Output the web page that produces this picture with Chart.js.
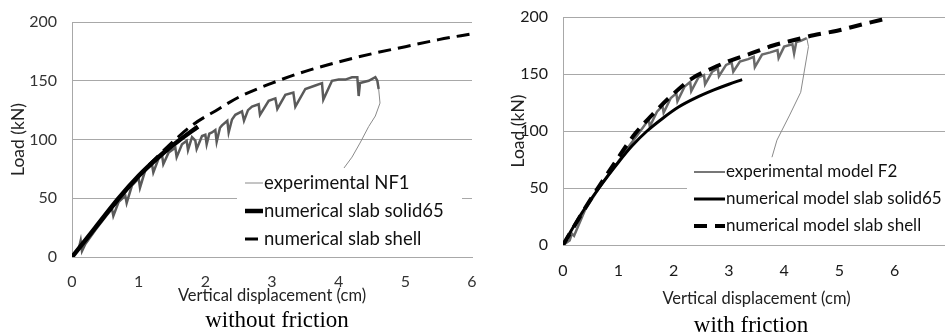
<!DOCTYPE html>
<html>
<head>
<meta charset="utf-8">
<script src="https://cdn.jsdelivr.net/npm/chart.js@4.4.0/dist/chart.umd.min.js"></script>
<style>
  html, body { margin: 0; padding: 0; background: #fff; overflow: hidden; }
  body { width: 945px; height: 333px; position: relative; }
  canvas { position: absolute; top: 0; }
  #left { left: 0; }
  #right { left: 480px; }
  .caption {
    position: absolute;
    font-family: 'Liberation Serif', 'Times New Roman', serif;
    font-size: 23px;
    line-height: 23px;
    color: #000;
    white-space: nowrap;
    transform: translateX(-50%);
  }
</style>
</head>
<body>
<canvas id="left" width="480" height="310"></canvas>
<canvas id="right" width="480" height="315"></canvas>
<div class="caption" style="left:277px; top:308px">without friction</div>
<div class="caption" style="left:751px; top:313px">with friction</div>

<script>
// axis ticks
const yTicks = [0, 50, 100, 150, 200];
const xTicksLeft = [0, 1, 2, 3, 4, 5, 6];
const xTicksRight = [0, 1, 2, 3, 4, 5, 6, 7];

// --- without friction ---
const nf1X = [0, 0.1, 0.13, 0.15, 0.2, 0.35, 0.5, 0.6, 0.62, 0.7, 0.8, 0.82, 0.9, 1.0, 1.02,
  1.1, 1.2, 1.22, 1.3, 1.35, 1.37, 1.45, 1.55, 1.57, 1.65, 1.72, 1.74, 1.8, 1.85, 1.87,
  1.95, 2.0, 2.02, 2.06, 2.1, 2.15, 2.17, 2.22, 2.25, 2.33, 2.35, 2.4, 2.45, 2.55, 2.58,
  2.64, 2.7, 2.8, 2.82, 2.95, 3.05, 3.08, 3.2, 3.32, 3.35, 3.5, 3.65, 3.75, 3.77, 3.9,
  4.0, 4.1, 4.2, 4.28, 4.3, 4.32, 4.45, 4.55, 4.58, 4.6, 4.62, 4.55, 4.45, 4.32, 4.2, 4.07];
const nf1Y = [0, 7, 14, 5, 11, 23, 34, 41, 35, 47, 52, 46, 61, 67, 59,
  74, 79, 72, 84, 87, 79, 89, 93, 85, 96, 99, 91, 102, 99, 92,
  103, 104, 96, 105, 106, 108, 98, 110, 112, 116, 106, 117, 121, 124, 116,
  125, 128, 130, 121, 133, 135, 126, 138, 140, 128, 143, 146, 148, 134, 150,
  151, 151, 153, 153, 137, 148, 150, 153, 150, 143, 131, 120, 111, 97, 85, 75];
const solidLeftX = [0, 0.35, 0.7, 1.0, 1.2, 1.4, 1.6, 1.89];
const solidLeftY = [0, 25, 50, 69, 80, 90, 99, 111];
const shellLeftX = [0, 0.5, 1, 1.4, 1.8, 2.2, 2.5, 3, 3.5, 4, 4.5, 5, 5.5, 6];
const shellLeftY = [0, 35, 69, 92, 112, 126, 136, 148, 158, 166, 173, 179, 185, 190];

// --- with friction ---
const f2X = [0, 0.12, 0.16, 0.2, 0.4, 0.6, 0.8, 1.0, 1.2, 1.4, 1.55, 1.57, 1.7, 1.8, 1.82,
  1.95, 2.05, 2.07, 2.2, 2.3, 2.32, 2.45, 2.55, 2.57, 2.7, 2.8, 2.82, 2.95, 3.05, 3.08,
  3.2, 3.35, 3.45, 3.47, 3.6, 3.75, 3.88, 3.9, 4.0, 4.15, 4.18, 4.22, 4.3, 4.41, 4.44,
  4.3, 4.1, 3.87, 3.78];
const f2Y = [0, 4, 10, 8, 31, 46, 60, 73, 87, 100, 110, 104, 117, 122, 116,
  129, 133, 126, 139, 143, 135, 147, 149, 141, 152, 155, 148, 158, 160, 152,
  161, 163, 165, 156, 167, 169, 171, 164, 174, 176, 168, 178, 179, 181.5, 174,
  134, 114, 92, 77];
const solidRightX = [0, 0.3, 0.65, 1.01, 1.25, 1.52, 1.8, 2.09, 2.4, 2.73, 3.0, 3.24];
const solidRightY = [0, 25, 50, 73, 87, 100, 111, 121, 129, 136, 141, 145];
const shellRightX = [0, 0.46, 0.95, 1.31, 1.61, 1.94, 2.33, 2.7, 3.04, 3.4, 3.8, 4.2, 4.53, 4.96, 5.45, 5.89];
const shellRightY = [0, 37, 73, 98, 114, 130, 146, 155, 162, 168, 175, 180, 184, 188, 194, 199];

Chart.defaults.font.family = 'Lato, "Open Sans", sans-serif';

function points(xs, ys) {
  return xs.map((x, i) => ({ x: x, y: ys[i] }));
}

// index where the test curve starts going back (unloading branch)
function unloadStart(xs) {
  for (let i = 1; i < xs.length; i++) {
    if (xs[i] < xs[i - 1]) return i - 2;
  }
  return xs.length;
}

// legend drawn inside the plot, on a white box
const lineLegend = {
  id: 'lineLegend',
  afterDatasetsDraw(chart, args, opts) {
    const ctx = chart.ctx;
    ctx.save();
    ctx.fillStyle = '#fff';
    ctx.fillRect(opts.box[0], opts.box[1], opts.box[2], opts.box[3]);
    ctx.font = opts.font;
    ctx.textBaseline = 'middle';
    chart.data.datasets.forEach((ds, i) => {
      const y = opts.top + i * opts.rowHeight;
      ctx.beginPath();
      ctx.strokeStyle = ds.legendColor || ds.borderColor;
      ctx.lineWidth = ds.legendWidth || ds.borderWidth;
      ctx.setLineDash(ds.borderDash || []);
      ctx.moveTo(opts.sampleX, y);
      ctx.lineTo(opts.sampleX + opts.sampleWidth, y);
      ctx.stroke();
      ctx.setLineDash([]);
      ctx.fillStyle = '#111';
      ctx.fillText(ds.label, opts.sampleX + opts.sampleWidth + 1, y);
    });
    ctx.restore();
  }
};

function makeChart(id, datasets, cfg) {
  return new Chart(document.getElementById(id), {
    type: 'scatter',
    data: { datasets: datasets },
    plugins: [lineLegend],
    options: {
      responsive: false,
      animation: false,
      devicePixelRatio: 1,
      layout: { padding: cfg.padding },
      elements: { point: { radius: 0 } },
      plugins: {
        legend: { display: false },
        tooltip: { enabled: false },
        lineLegend: cfg.legend
      },
      scales: {
        x: {
          type: 'linear',
          min: 0,
          max: cfg.xTicks[cfg.xTicks.length - 1],
          afterBuildTicks: s => { s.ticks = cfg.xTicks.map(v => ({ value: v })); },
          afterFit: s => {
            s.height = cfg.xHeight;
            s.paddingLeft = 0;
            s.paddingRight = 0;
          },
          grid: { display: false, drawTicks: false },
          border: { display: true, color: '#a8a8a8' },
          ticks: { padding: cfg.xTickPad, color: cfg.tickColor, font: { size: 16 } },
          title: {
            display: true,
            text: 'Vertical displacement (cm)',
            color: '#222',
            font: { size: 16.5 },
            padding: { top: 0, bottom: cfg.xTitlePad }
          }
        },
        y: {
          type: 'linear',
          min: 0,
          max: 200,
          afterBuildTicks: s => { s.ticks = yTicks.map(v => ({ value: v })); },
          afterFit: s => {
            s.width = cfg.yWidth;
            s.paddingTop = 0;
            s.paddingBottom = 0;
          },
          grid: { color: '#a8a8a8', drawTicks: false },
          border: { display: true, color: '#a8a8a8' },
          ticks: { padding: 15, color: cfg.tickColor, font: { size: 16 } },
          title: {
            display: true,
            text: 'Load (kN)',
            color: '#222',
            font: { size: 17.5 },
            padding: { top: cfg.yTitlePad, bottom: 0 }
          }
        }
      }
    }
  });
}

const cutLeft = unloadStart(nf1X);
makeChart('left', [
  {
    label: 'experimental NF1',
    data: points(nf1X, nf1Y),
    showLine: true,
    borderColor: '#5a5a5a',
    borderWidth: 2.5,
    legendColor: '#8a8a8a',
    legendWidth: 1,
    order: 3,
    segment: {
      borderWidth: c => c.p0DataIndex >= cutLeft ? 1 : 2.5,
      borderColor: c => c.p0DataIndex >= cutLeft ? '#8a8a8a' : '#5a5a5a'
    }
  },
  {
    label: 'numerical slab solid65',
    data: points(solidLeftX, solidLeftY),
    showLine: true,
    borderColor: '#000',
    borderWidth: 4.5,
    cubicInterpolationMode: 'monotone',
    order: 1
  },
  {
    label: 'numerical slab shell',
    data: points(shellLeftX, shellLeftY),
    showLine: true,
    borderColor: '#000',
    borderWidth: 3,
    borderDash: [13, 7],
    cubicInterpolationMode: 'monotone',
    order: 2
  }
], {
  padding: { left: 0, top: 22, right: 8, bottom: 0 },
  xTicks: xTicksLeft,
  xHeight: 53,
  yWidth: 72,
  xTickPad: 15.5,
  xTitlePad: 4,
  yTitlePad: 8,
  tickColor: '#333',
  legend: {
    box: [237, 168, 225, 84],
    top: 183,
    rowHeight: 28,
    sampleX: 245,
    sampleWidth: 18,
    font: '18.5px Lato, "Open Sans", sans-serif'
  }
});

const cutRight = unloadStart(f2X);
makeChart('right', [
  {
    label: 'experimental model F2',
    data: points(f2X, f2Y),
    showLine: true,
    borderColor: '#6a6a6a',
    borderWidth: 2.5,
    legendColor: '#777',
    legendWidth: 2,
    order: 3,
    segment: {
      borderWidth: c => c.p0DataIndex >= cutRight ? 1 : 2.5,
      borderColor: c => c.p0DataIndex >= cutRight ? '#8a8a8a' : '#6a6a6a'
    }
  },
  {
    label: 'numerical model slab solid65',
    data: points(solidRightX, solidRightY),
    showLine: true,
    borderColor: '#000',
    borderWidth: 3,
    cubicInterpolationMode: 'monotone',
    order: 1
  },
  {
    label: 'numerical model slab shell',
    data: points(shellRightX, shellRightY),
    showLine: true,
    borderColor: '#000',
    borderWidth: 4,
    borderDash: [13, 8],
    cubicInterpolationMode: 'monotone',
    order: 2
  }
], {
  padding: { left: 0, top: 17, right: 10, bottom: 0 },
  xTicks: xTicksRight,
  xHeight: 70,
  yWidth: 83,
  xTickPad: 16,
  xTitlePad: 6,
  yTitlePad: 28,
  tickColor: '#1a1a1a',
  legend: {
    box: [207, 158, 273, 80],
    top: 172,
    rowHeight: 27,
    sampleX: 214,
    sampleWidth: 31,
    font: '17px Lato, "Open Sans", sans-serif'
  }
});
</script>
</body>
</html>
